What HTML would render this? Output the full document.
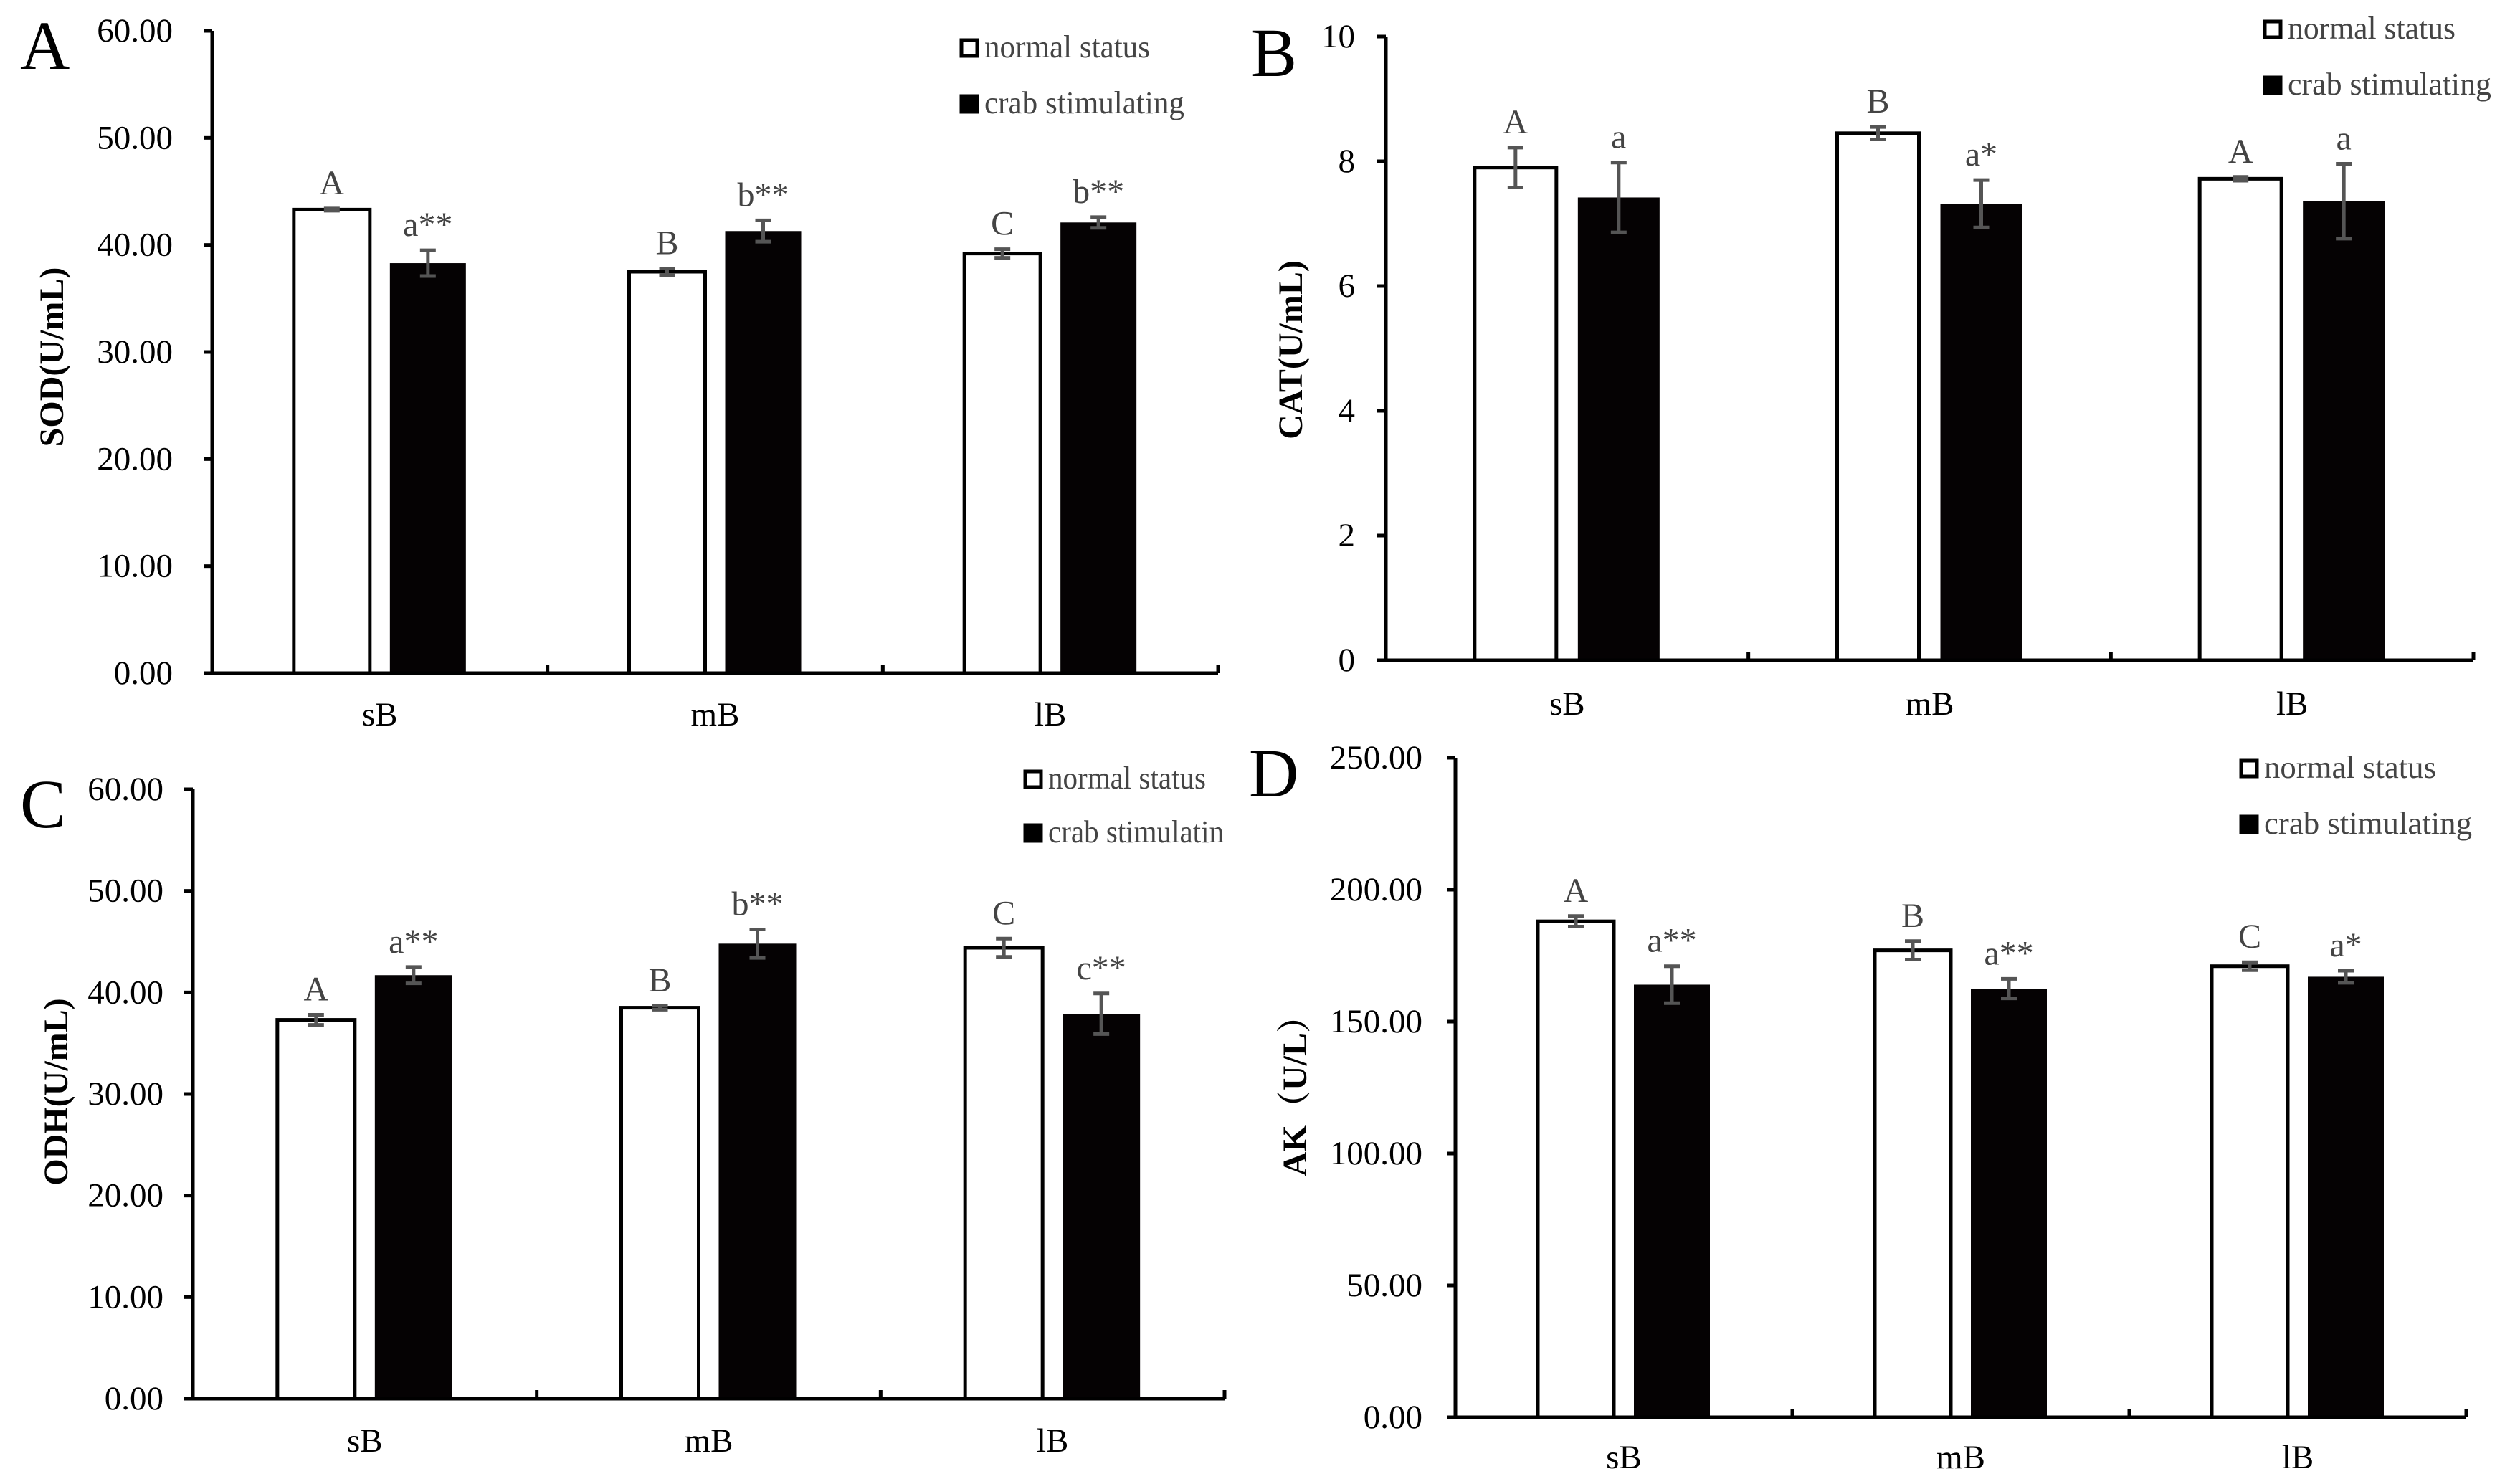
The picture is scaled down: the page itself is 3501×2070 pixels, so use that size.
<!DOCTYPE html>
<html><head><meta charset="utf-8"><style>
html,body{margin:0;padding:0;background:#fff;}
svg{display:block;}
text{font-family:"Liberation Serif","Noto Serif CJK SC",serif;}
</style></head><body>
<svg id="fig" width="3501" height="2070" viewBox="0 0 3501 2070" xmlns="http://www.w3.org/2000/svg"></svg>
<script>
const categories = ["sB","mB","lB"];
const seriesNames = ["normal status","crab stimulating"];

const sodNormal = [43.3, 37.5, 39.2];
const sodNormalErr = [0.1, 0.3, 0.4];
const sodCrab = [38.3, 41.3, 42.1];
const sodCrabErr = [1.2, 1.0, 0.5];
const sodLetters = ["A","B","C"];
const sodCrabLetters = ["a**","b**","b**"];
const sodTicks = ["0.00","10.00","20.00","30.00","40.00","50.00","60.00"];

const catNormal = [7.9, 8.45, 7.72];
const catNormalErr = [0.32, 0.1, 0.03];
const catCrab = [7.42, 7.32, 7.36];
const catCrabErr = [0.56, 0.38, 0.6];
const catLetters = ["A","B","A"];
const catCrabLetters = ["a","a*","a"];
const catTicks = ["0","2","4","6","8","10"];

const odhNormal = [37.3, 38.5, 44.4];
const odhNormalErr = [0.5, 0.2, 0.9];
const odhCrab = [41.7, 44.8, 37.9];
const odhCrabErr = [0.8, 1.4, 2.0];
const odhLetters = ["A","B","C"];
const odhCrabLetters = ["a**","b**","c**"];
const odhTicks = ["0.00","10.00","20.00","30.00","40.00","50.00","60.00"];

const akNormal = [188, 177, 171];
const akNormalErr = [2, 3.5, 1.5];
const akCrab = [164, 162.5, 167];
const akCrabErr = [7, 3.7, 2.3];
const akLetters = ["A","B","C"];
const akCrabLetters = ["a**","a**","a*"];
const akTicks = ["0.00","50.00","100.00","150.00","200.00","250.00"];

const NS = "http://www.w3.org/2000/svg";
const svg = document.getElementById("fig");
function mk(tag, attrs, parent, txt){
  const e = document.createElementNS(NS, tag);
  for (const k in attrs) e.setAttribute(k, attrs[k]);
  if (txt !== undefined) e.textContent = txt;
  (parent||svg).appendChild(e);
  return e;
}

function panel(cfg){
  const g = mk("g", {});
  
  
  const ymax = cfg.max;
  const y = v => cfg.y0 - (v/ymax)*(cfg.y0 - cfg.yTop);
  const gw = (cfg.xEnd - cfg.x0)/categories.length;
  const cx = i => cfg.x0 + gw*(i+0.5);
  const pl = mk("text", {x:cfg.lx, y:cfg.ly, "font-size":96, fill:"#000"}, g, cfg.letter);
  
  
  cfg.ticks.forEach((t,i)=>{
    const v = parseFloat(t);
    const tk = mk("line", {x1:cfg.x0-12, x2:cfg.x0, y1:y(v), y2:y(v), stroke:"#000","stroke-width":5}, g);
    
    
    const tl = mk("text", {x:cfg.tickRight, y:y(v)+15, "font-size":47, "text-anchor":"end", fill:"#000"}, g, t);
    
    
  });
  const yt = mk("text", {x:0, y:0, "font-size":48, "font-weight":"bold", "text-anchor":"middle", fill:"#000",
    transform:`translate(${cfg.tx},${cfg.ty}) rotate(-90)`}, g, cfg.title);
  
  
  const bw = cfg.bw;
  categories.forEach((c,i)=>{
    const xw = cx(i) - cfg.off, xb = cx(i) + cfg.off;
    const vN = cfg.normal[i], vC = cfg.crab[i];
    const rn = mk("rect", {x:xw-bw/2, y:y(vN), width:bw, height:cfg.y0-y(vN), fill:"#fff", stroke:"#000", "stroke-width":5}, g);
    
    
    const rc = mk("rect", {x:xb-bw/2, y:y(vC), width:bw, height:cfg.y0-y(vC), fill:"#050203"}, g);
    
    
    [[xw,vN,cfg.normalErr[i],cfg.nLet[i]],[xb,vC,cfg.crabErr[i],cfg.cLet[i]]].forEach(([x,v,e,l])=>{
      const top = y(v+e), bot = y(v-e);
      const eb = mk("path", {d:`M${x-11},${top}H${x+11}M${x},${top}V${bot}M${x-11},${bot}H${x+11}`, stroke:"#555", "stroke-width":5, fill:"none"}, g);
      
      
      const lt = mk("text", {x:x, y:top-20, "font-size":48, "text-anchor":"middle", fill:"#444"}, g, l);
      
      
    });
    const xl = mk("text", {x:cx(i), y:cfg.xly, "font-size":47, "text-anchor":"middle", fill:"#000"}, g, c);
    
    
  });
  const ax = mk("path", {d:`M${cfg.x0},${cfg.yTop}V${cfg.y0}H${cfg.xEnd}`, stroke:"#000","stroke-width":5, fill:"none"}, g);
  
  
  for (let i=1;i<=categories.length;i++){
    const xt = mk("line", {x1:cfg.x0+gw*i, x2:cfg.x0+gw*i, y1:cfg.y0, y2:cfg.y0-12, stroke:"#000","stroke-width":5}, g);
    
    
  }
  const L = cfg.leg;
  [0,1].forEach(k=>{
    const by = k===0 ? L.y1 : L.y2;
    const lb = mk("rect", {x:L.x+2, y:by-24, width:22, height:22, fill:k===0?"#fff":"#000", stroke:"#000","stroke-width":5}, g);
    
    
    const label = k===0 ? seriesNames[0] : (cfg.crabLabel || seriesNames[1]);
    const lt = mk("text", {x:L.x+34, y:by, "font-size":44, fill:"#444", textLength:k===0?L.w1:L.w2, lengthAdjust:"spacingAndGlyphs"}, g, label);
    
    
  });
}

panel({name:"panel-a-sod", letter:"A", lx:28, ly:96, x0:296, xEnd:1699, y0:939, yTop:43, max:60,
  ticks:sodTicks, tickRight:241, title:"SOD(U/mL)", tx:88, ty:498, bw:106, off:67, xly:1012,
  normal:sodNormal, normalErr:sodNormalErr, crab:sodCrab, crabErr:sodCrabErr, nLet:sodLetters, cLet:sodCrabLetters,
  leg:{x:1339, y1:80, y2:158, w1:231, w2:279}});
panel({name:"panel-b-cat", letter:"B", lx:1745, ly:106, x0:1933, xEnd:3450, y0:921, yTop:51, max:10,
  ticks:catTicks, tickRight:1890, title:"CAT(U/mL)", tx:1816, ty:488, bw:114, off:72, xly:997,
  normal:catNormal, normalErr:catNormalErr, crab:catCrab, crabErr:catCrabErr, nLet:catLetters, cLet:catCrabLetters,
  leg:{x:3157, y1:54, y2:132, w1:234, w2:284}});
panel({name:"panel-c-odh", letter:"C", lx:28, ly:1154, x0:269, xEnd:1708, y0:1951, yTop:1101, max:60,
  ticks:odhTicks, tickRight:228, title:"ODH(U/mL)", tx:94, ty:1523, bw:108, off:68, xly:2025,
  normal:odhNormal, normalErr:odhNormalErr, crab:odhCrab, crabErr:odhCrabErr, nLet:odhLetters, cLet:odhCrabLetters,
  crabLabel:"crab stimulatin",
  leg:{x:1428, y1:1100, y2:1175, w1:220, w2:245}});
panel({name:"panel-d-ak", letter:"D", lx:1742, ly:1111, x0:2030, xEnd:3440, y0:1977, yTop:1057, max:250,
  ticks:akTicks, tickRight:1984, title:"AK（U/L）", tx:1822, ty:1517, bw:106, off:67, xly:2048,
  normal:akNormal, normalErr:akNormalErr, crab:akCrab, crabErr:akCrabErr, nLet:akLetters, cLet:akCrabLetters,
  leg:{x:3124, y1:1085, y2:1163, w1:240, w2:290}});
</script>
</body></html>
